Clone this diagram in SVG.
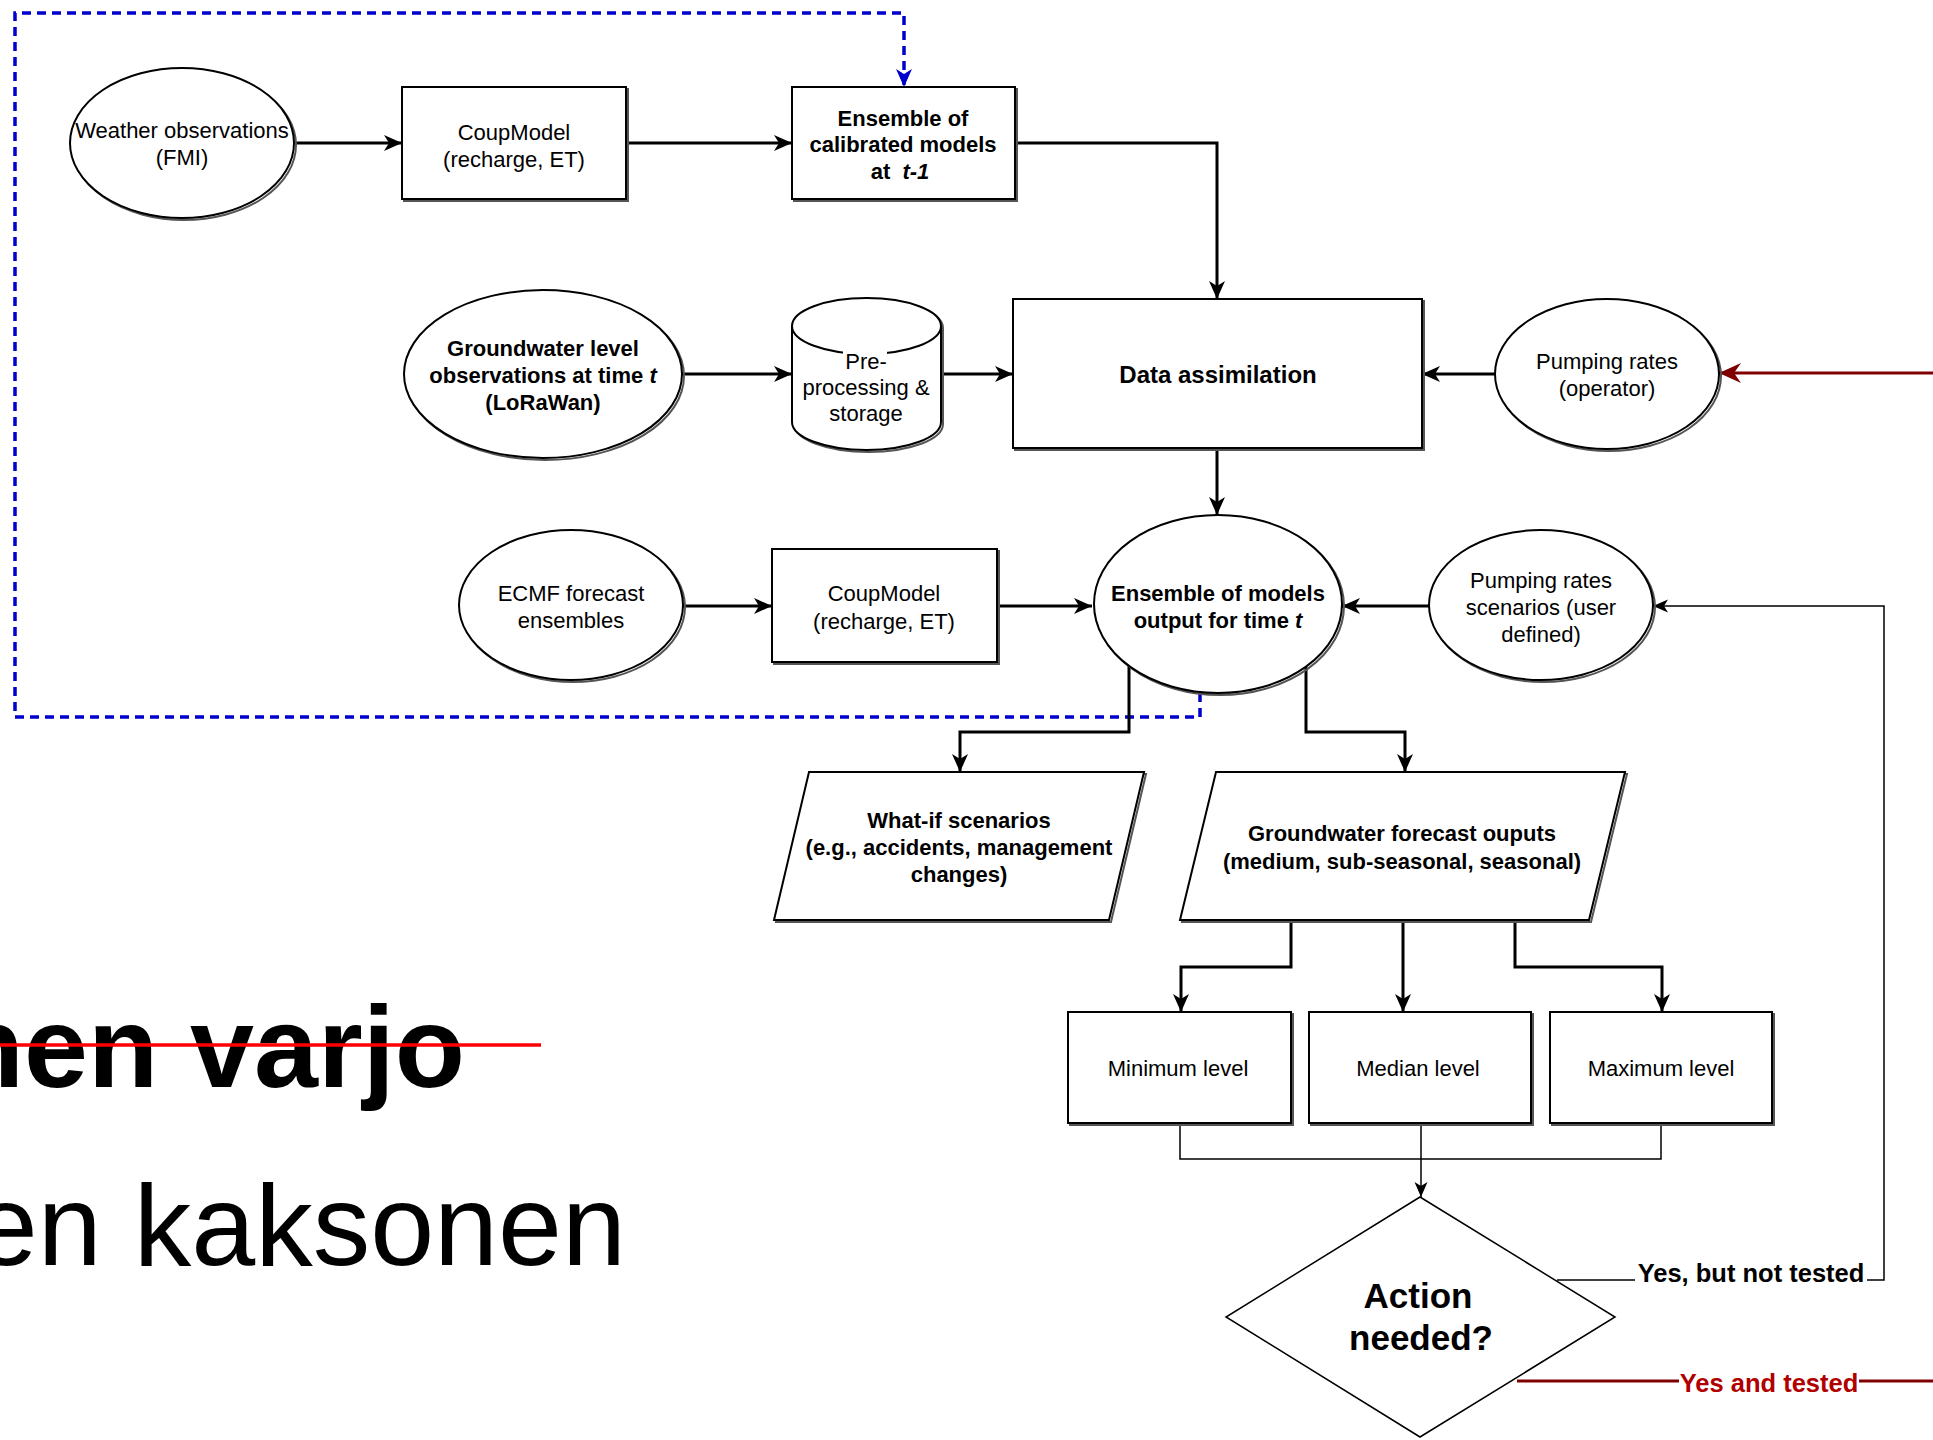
<svg xmlns="http://www.w3.org/2000/svg" width="1933" height="1440" viewBox="0 0 1933 1440">
<defs>
<style>
.s{fill:#fff;stroke:#000;stroke-width:2}
.sh{fill:none;stroke:#555;stroke-width:2}
.t{font-family:"Liberation Sans",Arial,sans-serif;font-size:22px;text-anchor:middle;fill:#000}
.b{font-weight:bold}
.c{fill:none;stroke:#000;stroke-width:3}
.thin{fill:none;stroke:#000;stroke-width:1.5}
.bg{fill:#fff;stroke:none}
</style>
<marker id="ab" markerUnits="userSpaceOnUse" markerWidth="20" markerHeight="18" refX="18" refY="9" orient="auto"><path d="M0,1 L18,9 L0,17 L5,9 Z" fill="#000"/></marker>
<marker id="as" markerUnits="userSpaceOnUse" markerWidth="16" markerHeight="14" refX="15" refY="7" orient="auto"><path d="M0,0.5 L15,7 L0,13.5 L4,7 Z" fill="#000"/></marker>
<marker id="ablue" markerUnits="userSpaceOnUse" markerWidth="20" markerHeight="18" refX="18" refY="9" orient="auto"><path d="M0,1 L18,9 L0,17 L5,9 Z" fill="#0000CC"/></marker>
<marker id="ared" markerUnits="userSpaceOnUse" markerWidth="24" markerHeight="22" refX="22" refY="11" orient="auto"><path d="M0,1 L22,11 L0,21 L7,11 Z" fill="#7F0000"/></marker>
</defs>
<rect width="1933" height="1440" fill="#fff"/>

<g id="background-text">
<text x="465" y="1087" style="font-family:'Liberation Sans',Arial,sans-serif;font-size:115px;font-weight:bold;text-anchor:end;fill:#000">nen varjo</text>
<line x1="0" y1="1045" x2="541" y2="1045" stroke="#FF0000" stroke-width="3.5"/>
<text x="626" y="1265" style="font-family:'Liberation Sans',Arial,sans-serif;font-size:115px;text-anchor:end;fill:#000">en kaksonen</text>
</g>

<g id="connectors">
<path d="M1200,693 V717 H15 V13 H904 V87" fill="none" stroke="#0000CC" stroke-width="3.5" stroke-dasharray="9 6" marker-end="url(#ablue)"/>
<path class="c" d="M295,143 H402" marker-end="url(#ab)"/>
<path class="c" d="M626,143 H792" marker-end="url(#ab)"/>
<path class="c" d="M1015,143 H1217 V299" marker-end="url(#ab)"/>
<path class="c" d="M682,374 H792" marker-end="url(#ab)"/>
<path class="c" d="M941,374 H1013" marker-end="url(#ab)"/>
<path class="c" d="M1495,374 H1422" marker-end="url(#ab)"/>
<path d="M1933,373 H1719" fill="none" stroke="#7F0000" stroke-width="3" marker-end="url(#ared)"/>
<path class="c" d="M1217,448 V515" marker-end="url(#ab)"/>
<path class="c" d="M683,606 H772" marker-end="url(#ab)"/>
<path class="c" d="M997,606 H1092" marker-end="url(#ab)"/>
<path class="c" d="M1429,606 H1342" marker-end="url(#ab)"/>
<path class="c" d="M1129,666 V732 H960 V772" marker-end="url(#ab)"/>
<path class="c" d="M1306,667 V732 H1405 V772" marker-end="url(#ab)"/>
<path class="c" d="M1291,920 V967 H1181 V1012" marker-end="url(#ab)"/>
<path class="c" d="M1403,920 V1012" marker-end="url(#ab)"/>
<path class="c" d="M1515,920 V967 H1662 V1012" marker-end="url(#ab)"/>
<path class="thin" d="M1180,1123 V1159 H1661 V1123"/>
<path class="thin" d="M1421,1123 V1197" marker-end="url(#as)"/>
<path class="thin" d="M1557,1280 H1884 V606 H1653" marker-end="url(#as)"/>
<path d="M1517,1381 H1933" fill="none" stroke="#7F0000" stroke-width="3"/>
<rect class="bg" x="1635" y="1258" width="232" height="32"/>
<text class="t b" x="1751" y="1282" style="font-size:25.5px">Yes, but not tested</text>
<rect class="bg" x="1679" y="1366" width="180" height="32"/>
<text class="t b" x="1769" y="1392" style="font-size:25.5px;fill:#B00000">Yes and tested</text>
</g>

<g id="weather">
<ellipse class="sh" cx="184" cy="145" rx="112" ry="75"/>
<ellipse class="s" cx="182" cy="143" rx="112" ry="75"/>
<text class="t" x="182" y="138">Weather observations</text>
<text class="t" x="182" y="165">(FMI)</text>
</g>

<g id="coupmodel1">
<rect class="sh" x="404" y="89" width="224" height="112"/>
<rect class="s" x="402" y="87" width="224" height="112"/>
<text class="t" x="514" y="140">CoupModel</text>
<text class="t" x="514" y="167">(recharge, ET)</text>
</g>

<g id="ensemble-calibrated">
<rect class="sh" x="794" y="89" width="223" height="112"/>
<rect class="s" x="792" y="87" width="223" height="112"/>
<text class="t b" x="903" y="126">Ensemble of</text>
<text class="t b" x="903" y="152">calibrated models</text>
<text class="t b" x="900" y="179">at <tspan dx="6" font-style="italic">t-1</tspan></text>
</g>

<g id="gw-observations">
<ellipse class="sh" cx="545" cy="376" rx="139" ry="84"/>
<ellipse class="s" cx="543" cy="374" rx="139" ry="84"/>
<text class="t b" x="543" y="356">Groundwater level</text>
<text class="t b" x="543" y="383">observations at time <tspan font-style="italic">t</tspan></text>
<text class="t b" x="543" y="410">(LoRaWan)</text>
</g>

<g id="preprocessing">
<path class="sh" d="M794,328 A74.5,28 0 0 1 943,328 V424 A74.5,28 0 0 1 794,424 Z"/>
<path class="s" d="M792,326 A74.5,28 0 0 1 941,326 V422 A74.5,28 0 0 1 792,422 Z"/>
<path class="s" d="M792,326 A74.5,28 0 0 0 941,326" fill="none"/>
<rect class="bg" x="843" y="349" width="44" height="22"/>
<text class="t" x="866" y="369">Pre-</text>
<text class="t" x="866" y="395">processing &amp;</text>
<text class="t" x="866" y="421">storage</text>
</g>

<g id="data-assimilation">
<rect class="sh" x="1015" y="301" width="409" height="149"/>
<rect class="s" x="1013" y="299" width="409" height="149"/>
<text class="t b" x="1218" y="383" style="font-size:24px">Data assimilation</text>
</g>

<g id="pumping-operator">
<ellipse class="sh" cx="1609" cy="376" rx="112" ry="75"/>
<ellipse class="s" cx="1607" cy="374" rx="112" ry="75"/>
<text class="t" x="1607" y="369">Pumping rates</text>
<text class="t" x="1607" y="396">(operator)</text>
</g>

<g id="ecmf">
<ellipse class="sh" cx="573" cy="607" rx="112" ry="75"/>
<ellipse class="s" cx="571" cy="605" rx="112" ry="75"/>
<text class="t" x="571" y="601">ECMF forecast</text>
<text class="t" x="571" y="628">ensembles</text>
</g>

<g id="coupmodel2">
<rect class="sh" x="774" y="551" width="225" height="113"/>
<rect class="s" x="772" y="549" width="225" height="113"/>
<text class="t" x="884" y="601">CoupModel</text>
<text class="t" x="884" y="629">(recharge, ET)</text>
</g>

<g id="ensemble-output">
<ellipse class="sh" cx="1220" cy="606" rx="124" ry="89"/>
<ellipse class="s" cx="1218" cy="604" rx="124" ry="89"/>
<text class="t b" x="1218" y="601">Ensemble of models</text>
<text class="t b" x="1218" y="628">output for time <tspan font-style="italic">t</tspan></text>
</g>

<g id="pumping-scenarios">
<ellipse class="sh" cx="1543" cy="607" rx="112" ry="75"/>
<ellipse class="s" cx="1541" cy="605" rx="112" ry="75"/>
<text class="t" x="1541" y="588">Pumping rates</text>
<text class="t" x="1541" y="615">scenarios (user</text>
<text class="t" x="1541" y="642">defined)</text>
</g>

<g id="what-if">
<polygon class="sh" points="811,774 1146,774 1111,922 776,922"/>
<polygon class="s" points="809,772 1144,772 1109,920 774,920"/>
<text class="t b" x="959" y="828">What-if scenarios</text>
<text class="t b" x="959" y="855">(e.g., accidents, management</text>
<text class="t b" x="959" y="882">changes)</text>
</g>

<g id="gw-forecast">
<polygon class="sh" points="1218,774 1627,774 1591,922 1182,922"/>
<polygon class="s" points="1216,772 1625,772 1589,920 1180,920"/>
<text class="t b" x="1402" y="841">Groundwater forecast ouputs</text>
<text class="t b" x="1402" y="869">(medium, sub-seasonal, seasonal)</text>
</g>

<g id="minimum-level">
<rect class="sh" x="1070" y="1014" width="223" height="111"/>
<rect class="s" x="1068" y="1012" width="223" height="111"/>
<text class="t" x="1178" y="1076">Minimum level</text>
</g>

<g id="median-level">
<rect class="sh" x="1311" y="1014" width="222" height="111"/>
<rect class="s" x="1309" y="1012" width="222" height="111"/>
<text class="t" x="1418" y="1076">Median level</text>
</g>

<g id="maximum-level">
<rect class="sh" x="1552" y="1014" width="222" height="111"/>
<rect class="s" x="1550" y="1012" width="222" height="111"/>
<text class="t" x="1661" y="1076">Maximum level</text>
</g>

<g id="action-needed">
<polygon points="1420,1197 1615,1317 1420,1437 1226,1317" fill="#fff" stroke="#000" stroke-width="1.5"/>
<text class="t b" x="1418" y="1308" style="font-size:35px">Action</text>
<text class="t b" x="1421" y="1350" style="font-size:35px">needed?</text>
</g>
</svg>
